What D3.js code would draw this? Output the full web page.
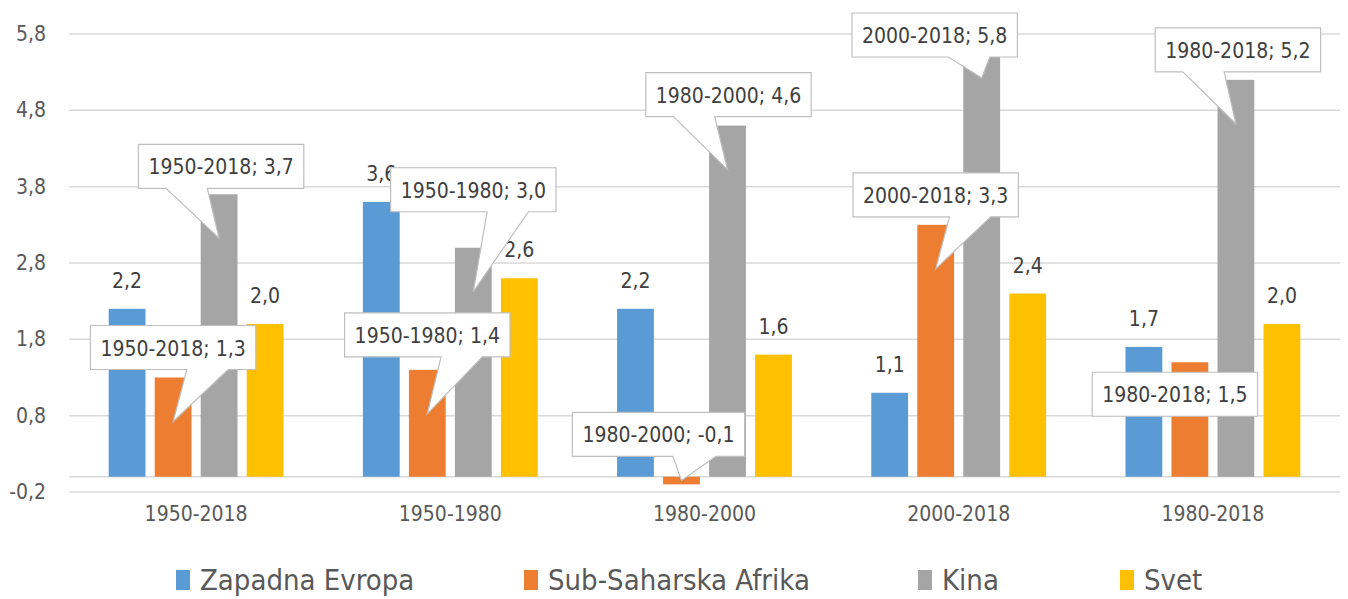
<html lang="en">
  <head>
    <meta charset="UTF-8" />
    <title>Rast</title>
    <script src="https://cdn.jsdelivr.net/npm/d3@7"></script>
  </head>
  <style>
    body { margin: 0; background: #fff; }
    text { font-family: "Liberation Sans Narrow", "DejaVu Sans Condensed", "Arial Narrow", sans-serif; }
  </style>
  <body>
    <div id="chart"></div>
    <script>
      const categories = ["1950-2018", "1950-1980", "1980-2000", "2000-2018", "1980-2018"];
      const seriesNames = ["Zapadna Evropa", "Sub-Saharska Afrika", "Kina", "Svet"];
      const zapadnaEvropa = [2.2, 3.6, 2.2, 1.1, 1.7];
      const subSaharskaAfrika = [1.3, 1.4, -0.1, 3.3, 1.5];
      const kina = [3.7, 3.0, 4.6, 5.8, 5.2];
      const svet = [2.0, 2.6, 1.6, 2.4, 2.0];
      const yTicks = [-0.2, 0.8, 1.8, 2.8, 3.8, 4.8, 5.8];

      // where each callout box sits relative to the bar end (dx, dy of box centre)
      const afrikaCallout = [[0, -30], [0, -35], [-23, -50], [0, -30], [-15, 32]];
      const kinaCallout = [[2, -28], [0, -58], [1, -31], [-47, 1], [2, -30]];

      const colors = ["#5B9BD5", "#ED7D31", "#A5A5A5", "#FFC000"];
      const values = [zapadnaEvropa, subSaharskaAfrika, kina, svet];

      const width = 1348, height = 599;
      const svg = d3.select("#chart").append("svg")
        .attr("width", width).attr("height", height);

      const x0 = d3.scaleBand().domain(categories).range([69, 1340])
        .paddingInner(0.276).paddingOuter(0.138);
      const x1 = d3.scaleBand().domain(seriesNames).range([0, x0.bandwidth()])
        .paddingInner(0.2).paddingOuter(0.1);
      const y = d3.scaleLinear().domain([-0.2, 5.8]).range([492, 34]);
      const fmt = v => d3.format(".1f")(v).replace(".", ",").replace("\u2212", "-");

      // grid
      svg.append("g").selectAll("line").data(yTicks.concat([0])).join("line")
        .attr("x1", 69).attr("x2", 1340)
        .attr("y1", d => y(d)).attr("y2", d => y(d))
        .attr("stroke", "#d9d9d9").attr("stroke-width", 1.5);

      svg.append("g").selectAll("text").data(yTicks).join("text")
        .attr("x", 46).attr("y", d => y(d) + 7)
        .attr("text-anchor", "end").attr("fill", "#595959")
        .style("font-size", "21px").text(fmt);

      svg.append("g").selectAll("text").data(categories).join("text")
        .attr("x", d => x0(d) + x0.bandwidth() / 2).attr("y", 521)
        .attr("text-anchor", "middle").attr("fill", "#595959")
        .style("font-size", "21px").text(d => d);

      // bars
      const rows = [];
      seriesNames.forEach((s, si) => categories.forEach((c, ci) => {
        rows.push({ s, si, c, ci, v: values[si][ci] });
      }));
      const cx = d => x0(d.c) + x1(d.s) + x1.bandwidth() / 2;

      svg.append("g").selectAll("rect").data(rows).join("rect")
        .attr("x", d => x0(d.c) + x1(d.s))
        .attr("width", x1.bandwidth())
        .attr("y", d => Math.min(y(d.v), y(0)))
        .attr("height", d => Math.abs(y(d.v) - y(0)))
        .attr("fill", d => colors[d.si]);

      // plain labels
      svg.append("g").selectAll("text")
        .data(rows.filter(d => d.si === 0 || d.si === 3)).join("text")
        .attr("x", cx).attr("y", d => y(d.v) - 21)
        .attr("text-anchor", "middle").attr("fill", "#404040")
        .style("font-size", "21px").text(d => fmt(d.v));

      // callouts
      const callouts = rows.filter(d => d.si === 1 || d.si === 2);
      callouts.forEach(d => {
        const off = (d.si === 1 ? afrikaCallout : kinaCallout)[d.ci];
        const g = svg.append("g");
        const bx = cx(d) + off[0], by = y(d.v) + off[1];
        const t = g.append("text").attr("x", bx).attr("y", by + 8)
          .attr("text-anchor", "middle").attr("fill", "#404040")
          .style("font-size", "21px").text(d.c + "; " + fmt(d.v));
        const w = t.node().getComputedTextLength() + 20, h = 44;
        const l = bx - w / 2, r = bx + w / 2, top = by - h / 2, bot = by + h / 2;
        const hgt = Math.abs(y(d.v) - y(0));
        const tx = cx(d), ty = y(d.v) + (d.v >= 0 ? 1 : -1) * Math.min(44, hgt / 2);
        let p;
        if (tx > l && tx < r && ty > top && ty < bot) {
          p = `M${l},${top}H${r}V${bot}H${l}Z`;
        } else {
          const a = tx < bx ? [2 / 12, 5 / 12] : [7 / 12, 10 / 12];
          p = `M${l},${top}H${r}V${bot}H${l + w * a[1]}L${tx},${ty}L${l + w * a[0]},${bot}H${l}Z`;
        }
        g.insert("path", "text").attr("d", p)
          .attr("fill", "#fff").attr("stroke", "#bfbfbf").attr("stroke-width", 1.2);
      });

      // legend
      const legendX = [176, 524, 918, 1120];
      const lg = svg.append("g").selectAll("g").data(seriesNames).join("g")
        .attr("transform", (d, i) => `translate(${legendX[i]},580)`);
      lg.append("rect").attr("x", 0).attr("y", -10).attr("width", 14).attr("height", 20)
        .attr("fill", (d, i) => colors[i]);
      lg.append("text").attr("x", 24).attr("y", 10).attr("fill", "#595959")
        .style("font-size", "29px").text(d => d);
    </script>
  </body>
</html>
